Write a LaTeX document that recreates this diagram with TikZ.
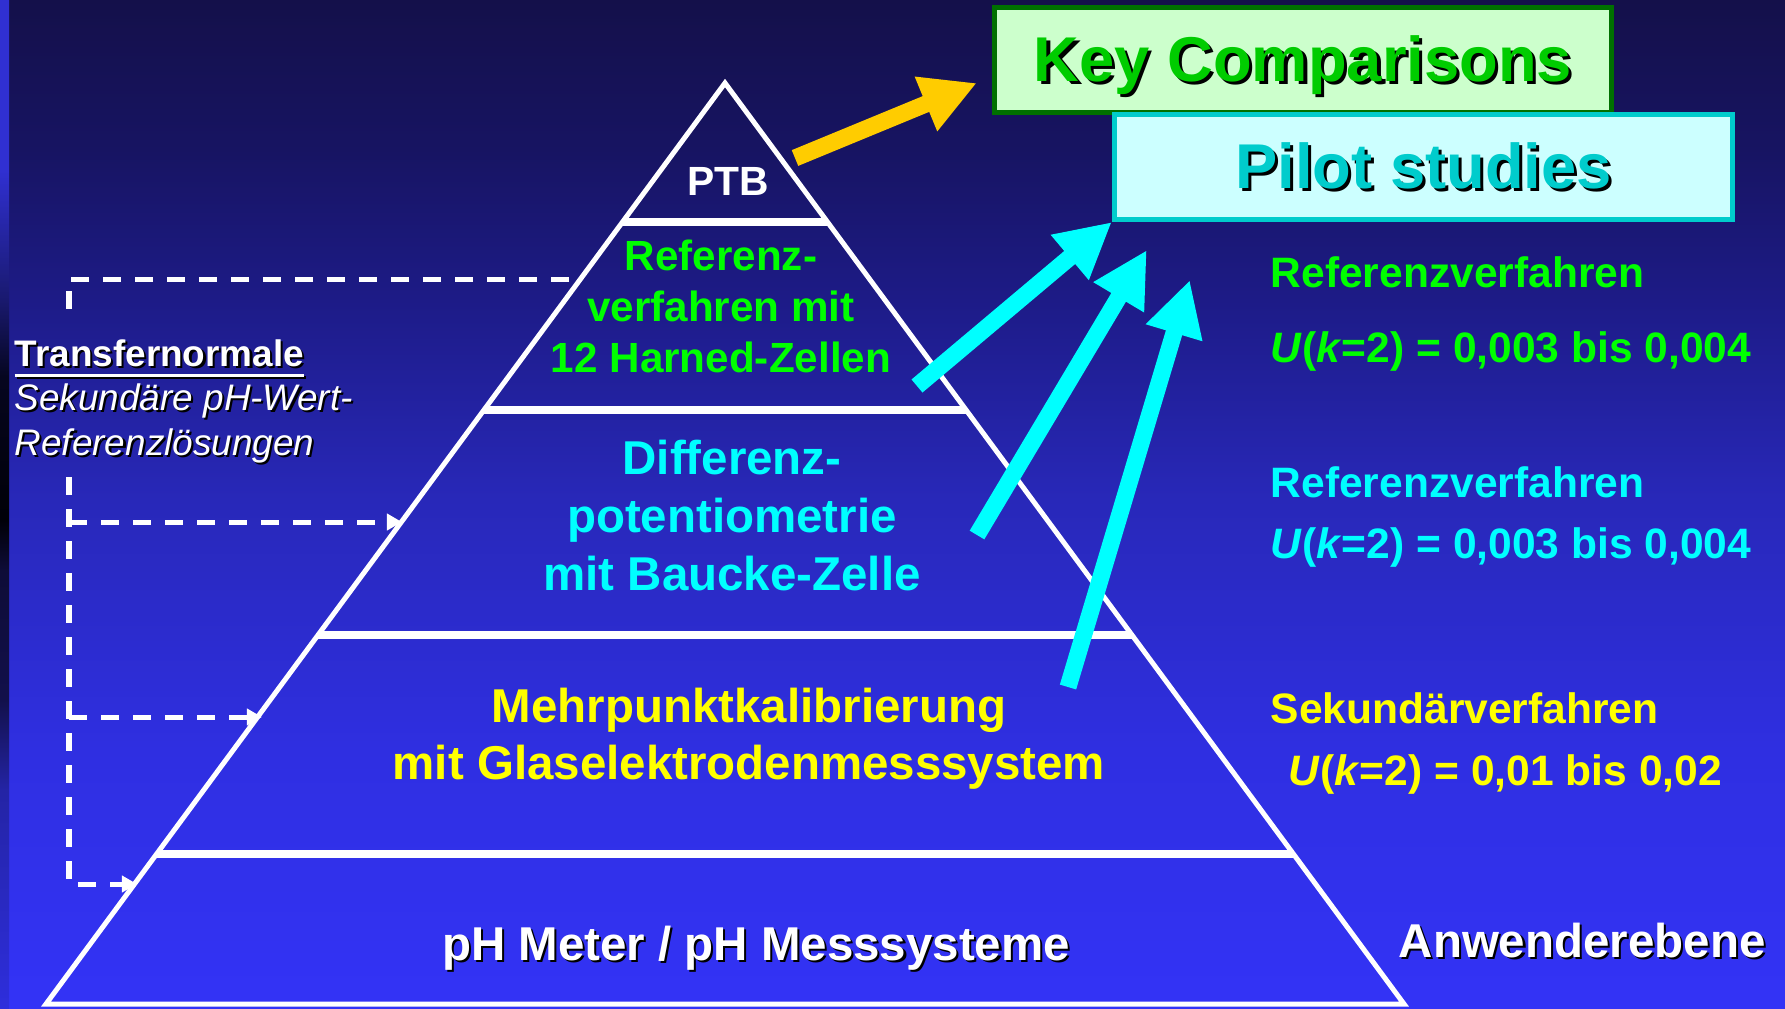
\documentclass[tikz,border=0pt]{standalone}
\usepackage{fontspec}
\setmainfont{Liberation Sans}
\usetikzlibrary{arrows.meta,calc}

\definecolor{bgA}{RGB}{20,16,74}
\definecolor{bgB}{RGB}{23,20,98}
\definecolor{bgC}{RGB}{29,27,135}
\definecolor{bgD}{RGB}{40,40,185}
\definecolor{bgE}{RGB}{47,47,225}
\definecolor{bgF}{RGB}{51,51,246}
\definecolor{edgeA}{RGB}{48,48,210}
\definecolor{edgeB}{RGB}{25,25,110}
\definecolor{edgeC}{RGB}{6,6,32}
\definecolor{edgeD}{RGB}{0,0,8}
\definecolor{edgeE}{RGB}{14,12,56}
\definecolor{edgeF}{RGB}{18,16,75}
\definecolor{edgeG}{RGB}{36,36,165}
\definecolor{edgeH}{RGB}{46,46,220}
\definecolor{kcgreen}{RGB}{0,204,0}
\definecolor{kcframe}{RGB}{0,112,0}
\definecolor{kcfill}{RGB}{204,255,204}
\definecolor{pscyan}{RGB}{0,204,204}
\definecolor{psfill}{RGB}{204,255,255}
\definecolor{arrowgold}{RGB}{255,204,0}
\definecolor{levelgreen}{RGB}{0,255,0}
\definecolor{levelcyan}{RGB}{0,255,255}
\definecolor{levelyellow}{RGB}{255,255,0}

\pgfdeclareverticalshading{slidebg}{100bp}{color(0bp)=(bgF); color(25bp)=(bgF); color(37.8bp)=(bgE); color(50.2bp)=(bgD); color(60.1bp)=(bgC); color(67.6bp)=(bgB); color(75bp)=(bgA); color(100bp)=(bgA)}
\pgfdeclareverticalshading{slideedge}{100bp}{color(0bp)=(edgeH); color(25bp)=(edgeH); color(35.8bp)=(edgeG); color(40.3bp)=(edgeF); color(46.7bp)=(edgeE); color(49.2bp)=(edgeD); color(56.3bp)=(edgeC); color(60.1bp)=(edgeB); color(66.6bp)=(edgeA); color(75bp)=(edgeA); color(100bp)=(edgeA)}

\newcommand\drop[2][0.6pt]{\leavevmode\rlap{\kern#1\raisebox{-#1}{\color{black}#2}}#2}
\newcommand\ulbar[1]{\setbox0\hbox{#1}\rlap{\raisebox{-3.1pt}{\rule{\wd0}{0.9pt}}}\box0}

\begin{document}
\begin{tikzpicture}[x=0.01cm, y=-0.01cm,
  edge/.style={draw=white, line width=0.05cm, line join=miter},
  divider/.style={draw=white, line width=0.08cm},
  level/.style={anchor=base, align=center, inner sep=0pt},
  note/.style={anchor=base west, inner sep=0pt, font=\fontsize{12.1}{14.5}\selectfont\bfseries},
  dashline/.style={white, line width=0.05cm, dash pattern=on 0.18cm off 0.14cm},
  dasharrow/.style={dashline, -{Triangle[length=0.15cm, width=0.16cm]}},
  bigarrow/.style={line width=0.17cm, -{Triangle[length=0.55cm, width=0.55cm]}},
  titlebox/.style={line width=0.05cm, minimum width=6.17cm, minimum height=1.05cm, inner sep=0pt,
    text height=0.5cm, text depth=0.07cm, font=\fontsize{18}{21.6}\selectfont\bfseries}]

	\useasboundingbox (0,0) rectangle (1785,1008);
	\shade[shading=slidebg] (0,0) rectangle (1785,1008);
	\shade[shading=slideedge] (0,0) rectangle (9,1008);

	\coordinate (apex) at (725,83);
	\coordinate (left) at (46,1004);
	\coordinate (right) at (1404,1004);
	\draw[edge] (apex) -- (left) -- (right) -- cycle;
	\foreach \h in {222,410,635,854}
		\draw[divider] ($(apex)!{(\h-83)/921}!(left)$) -- ($(apex)!{(\h-83)/921}!(right)$);

	\node[level, text=white, font=\fontsize{11.6}{14}\selectfont\bfseries] (ptb) at (728,195) {PTB};
	\node[level, text=levelgreen, font=\fontsize{12}{14.5}\selectfont\bfseries] (cells) at (721,372) {Referenz-\\verfahren mit\\12 Harned-Zellen};
	\node[level, text=levelcyan, font=\fontsize{13.5}{16.4}\selectfont\bfseries] (baucke) at (732,590) {Differenz-\\potentiometrie\\mit Baucke-Zelle};
	\node[level, text=levelyellow, font=\fontsize{13.5}{16.2}\selectfont\bfseries] (glass) at (749,779) {Mehrpunktkalibrierung\\mit Glaselektrodenmesssystem};
	\node[level, text=white, font=\fontsize{13.5}{16.2}\selectfont\bfseries] (meter) at (756,960) {\drop{pH Meter / pH Messsysteme}};

	\node[note, text=levelgreen] (rv1) at (1270,287) {Referenzverfahren};
	\node[note, text=levelgreen] (u1) at (1270,362) {\textit{U}(\textit{k}=2) = 0,003 bis 0,004};
	\node[note, text=levelcyan] (rv2) at (1270,497) {Referenzverfahren};
	\node[note, text=levelcyan] (u2) at (1270,558) {\textit{U}(\textit{k}=2) = 0,003 bis 0,004};
	\node[note, text=levelyellow] (sv) at (1270,723) {Sekundärverfahren};
	\node[note, text=levelyellow] (u3) at (1288,785) {\textit{U}(\textit{k}=2) = 0,01 bis 0,02};
	\node[note, text=white, font=\fontsize{13.5}{16.2}\selectfont\bfseries] (user) at (1398,957) {\drop{Anwenderebene}};

	\node[anchor=base west, align=left, inner sep=0pt, text=white, font=\fontsize{10.5}{12.6}\selectfont] (transfer) at (14,455)
		{\drop{\bfseries\ulbar{Transfernormale}}\\\drop{\itshape Sekundäre pH-Wert-}\\\drop{\itshape Referenzlösungen}};

	\coordinate (tap1) at (569,279);
	\coordinate (bus1) at (69,279);
	\coordinate (bus2) at (69,323);
	\coordinate (bus3) at (69,477);
	\coordinate (tap2) at (402,522);
	\coordinate (tap3) at (262,717);
	\coordinate (tap4) at (137,884);
	\draw[dashline] (tap1) -- (bus1) -- (bus2);
	\draw[dasharrow] (bus3) |- (tap4);
	\draw[dasharrow] (bus3 |- tap2) -- (tap2);
	\draw[dasharrow] (bus3 |- tap3) -- (tap3);

	\node[titlebox, draw=kcframe, fill=kcfill, text=kcgreen] (key) at (1303,60) {\drop[0.9pt]{Key Comparisons}};
	\node[titlebox, draw=pscyan, fill=psfill, text=pscyan, minimum width=6.18cm] (pilot) at (1423.5,167) {\drop[0.9pt]{Pilot studies}};

	\coordinate (ptbfoot) at (795,158);
	\coordinate (cellfoot) at (917,386);
	\coordinate (bauckefoot) at (977,535);
	\coordinate (glassfoot) at (1068,687);
	\draw[bigarrow, arrowgold] (ptbfoot) -- ([shift={(-15,23)}]key.west);
	\draw[bigarrow, levelcyan] (cellfoot) -- (pilot.south west);
	\draw[bigarrow, levelcyan] (bauckefoot) -- ([shift={(35,28)}]pilot.south west);
	\draw[bigarrow, levelcyan] (glassfoot) -- ([shift={(78,58)}]pilot.south west);
\end{tikzpicture}
\end{document}
